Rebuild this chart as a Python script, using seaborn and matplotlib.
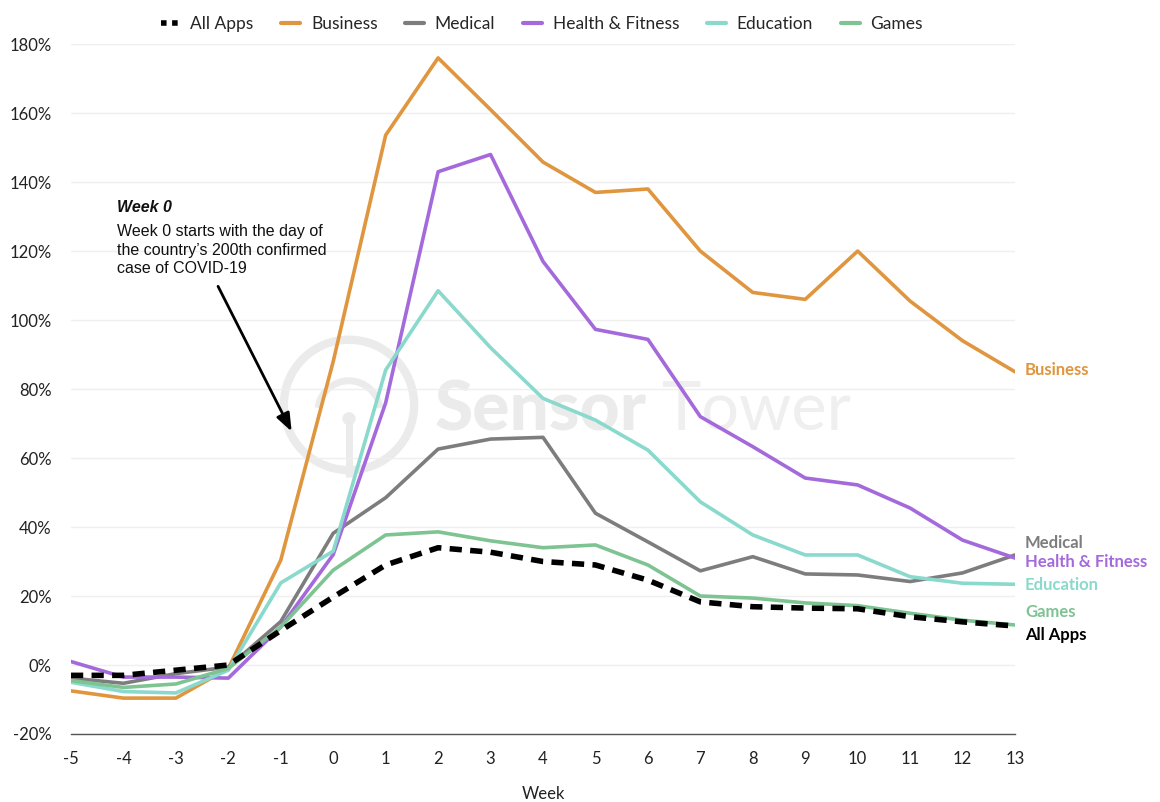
import matplotlib
matplotlib.use("Agg")
import matplotlib.pyplot as plt
from matplotlib.lines import Line2D
from matplotlib.patches import Ellipse, Arc
import numpy as np
import pandas as pd
import seaborn as sns

# Weeks relative to the day of the 200th confirmed COVID-19 case
weeks = list(range(-5, 14))

# Week-over-week growth in downloads, percent
all_apps = [-3, -3, -1.5, 0, 10, 19.7, 29, 34, 32.7, 30, 29, 24.6, 18.3, 16.9, 16.5, 16.3, 14, 12.5, 11.3]
business = [-7.5, -9.6, -9.6, -1, 30.4, 88, 153.6, 176, 161, 145.8, 137, 138, 120, 108, 106, 120, 105.5, 94, 85]
medical = [-3.8, -5.3, -2.5, -0.6, 12.6, 38.2, 48.5, 62.6, 65.5, 66, 44, 35.7, 27.3, 31.4, 26.4, 26.1, 24.2, 26.7, 31.9]
health_fitness = [1, -3.5, -3.5, -3.8, 11, 32, 76, 143, 148, 117, 97.3, 94.4, 72, 63.3, 54.2, 52.2, 45.5, 36.2, 31]
education = [-5, -7.7, -8.1, -1.5, 23.8, 33, 85.5, 108.5, 92, 77.3, 71, 62.3, 47.3, 37.7, 31.9, 31.9, 25.6, 23.7, 23.4]
games = [-4.5, -6.5, -5.5, -1, 11, 27.5, 37.7, 38.6, 36, 34, 34.8, 29, 20, 19.4, 18, 17.2, 15, 13, 11.6]

categories = ["All Apps", "Business", "Medical", "Health & Fitness", "Education", "Games"]
series = [all_apps, business, medical, health_fitness, education, games]
colors = {
    "All Apps": "#000000",
    "Business": "#E0953F",
    "Medical": "#7D7D7D",
    "Health & Fitness": "#A46ADB",
    "Education": "#8AD9CD",
    "Games": "#7EC392",
}
y_ticks = list(range(-20, 181, 20))
x_ticks = list(range(-5, 14))

df = pd.DataFrame(
    [(c, w, v) for c, vals in zip(categories, series) for w, v in zip(weeks, vals)],
    columns=["App", "Week", "Growth"],
)

sns.set_theme(style="white")
plt.rcParams["font.family"] = ["Lato", "DejaVu Sans"]

fig = plt.figure(figsize=(11.6, 8.02), dpi=100)
ax = fig.add_axes([0.0612, 0.0848, 0.8138, 0.8602])

# Faint brand mark in the background
wm = "#EBEBEB"
ax.text(0.385, 0.468, "Sensor", transform=ax.transAxes, fontsize=50, fontweight="black",
        color=wm, ha="left", va="center", zorder=0)
ax.text(0.626, 0.468, "Tower", transform=ax.transAxes, fontsize=48, fontweight="normal",
        color="#EFEFEF", ha="left", va="center", zorder=0)
cx, cy = 0.2945, 0.477
ax.add_patch(Ellipse((cx, cy), 0.138, 0.189, transform=ax.transAxes, fill=False,
                     lw=6, ec=wm, zorder=0))
ax.add_patch(Arc((cx, cy - 0.01), 0.066, 0.09, theta1=10, theta2=170,
                 transform=ax.transAxes, lw=5, ec=wm, zorder=0))
ax.add_line(Line2D([cx, cx], [cy - 0.02, cy - 0.105], transform=ax.transAxes,
                   lw=5, color=wm, zorder=0, solid_capstyle="butt"))
ax.add_patch(Ellipse((cx, cy - 0.02), 0.014, 0.019, transform=ax.transAxes,
                     fc=wm, ec="none", zorder=0))

# Category lines first, the all-apps benchmark on top
draw_order = ["Business", "Medical", "Health & Fitness", "Education", "Games", "All Apps"]
for name in draw_order:
    sub = df[df["App"] == name]
    if name == "All Apps":
        sns.lineplot(data=sub, x="Week", y="Growth", ax=ax, color=colors[name],
                     linewidth=4.0, dashes=False, zorder=5)
        ax.lines[-1].set_dashes((2.2, 1.5))
    else:
        sns.lineplot(data=sub, x="Week", y="Growth", ax=ax, color=colors[name],
                     linewidth=2.6, zorder=3)

ax.set_xlim(-5, 13)
ax.set_ylim(-20, 180)
ax.set_xticks(x_ticks)
ax.set_xticklabels([str(t) for t in x_ticks])
ax.set_yticks(y_ticks)
ax.set_yticklabels([f"{t}%" for t in y_ticks])
ax.tick_params(axis="both", length=0, labelsize=12, colors="#222222")
ax.tick_params(axis="y", pad=14)
ax.tick_params(axis="x", pad=12)
ax.set_xlabel("Week", fontsize=12, color="#222222", labelpad=14)
ax.set_ylabel("")
ax.grid(axis="y", color="#EFEFEF", linewidth=1)
ax.grid(axis="x", visible=False)
for s in ["top", "right", "left"]:
    ax.spines[s].set_visible(False)
ax.spines["bottom"].set_color("#555555")
ax.spines["bottom"].set_linewidth(1.0)

# Series names at the right end of each line
end_labels = {
    "Business": 85.5,
    "Medical": 35.5,
    "Health & Fitness": 29.8,
    "Education": 23.3,
    "Games": 15.5,
    "All Apps": 8.8,
}
for name, ypos in end_labels.items():
    ax.text(13.19, ypos, name, color=colors[name], fontsize=12, fontweight="bold",
            ha="left", va="center", clip_on=False)

# Note about week 0
ann_font = ["Liberation Sans", "DejaVu Sans"]
ax.text(-4.13, 132.5, "Week 0", fontsize=11.5, fontweight="bold", fontstyle="italic",
        family=ann_font, color="#111111", ha="left", va="center")
ax.text(-4.13, 120.3,
        "Week 0 starts with the day of\nthe country\u2019s 200th confirmed\ncase of COVID-19",
        fontsize=11.5, family=ann_font, color="#111111", ha="left", va="center",
        linespacing=1.32)
ax.annotate("", xy=(-0.77, 67.0), xytext=(-2.22, 110.5),
            arrowprops=dict(arrowstyle="-|>,head_length=0.9,head_width=0.35",
                            color="black", lw=2))

# Legend across the top
handles = []
for name in categories:
    if name == "All Apps":
        handles.append(Line2D([0], [0], color="black", lw=4, dashes=(1.0, 1.0)))
    else:
        handles.append(Line2D([0], [0], color=colors[name], lw=3))
fig.legend(handles, categories, loc="center", bbox_to_anchor=(0.467, 0.97), ncol=6,
           frameon=False, fontsize=12.5, handlelength=1.1, columnspacing=1.6,
           handletextpad=0.6)

fig.savefig("out.png", dpi=100, facecolor="white")
